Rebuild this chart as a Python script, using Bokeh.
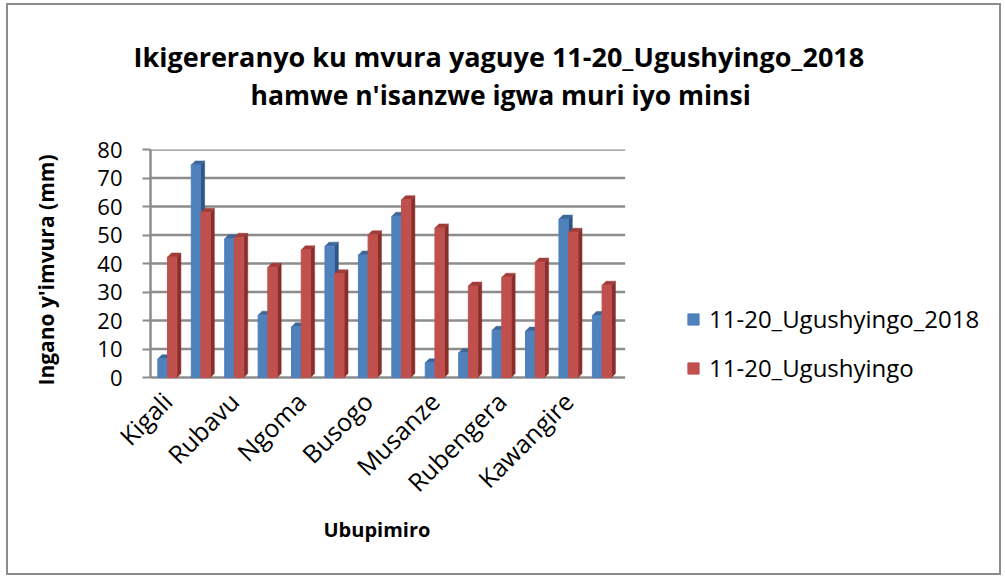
import numpy as np
from bokeh.plotting import figure
from bokeh.models import (Range1d, FixedTicker, Legend, LegendItem, Title)
from bokeh.embed import file_html
from bokeh.resources import INLINE

# ---- data ----
stations = ["Kigali", "", "Rubavu", "", "Ngoma", "", "Busogo", "", "Musanze", "",
            "Rubengera", "", "Kawangire", ""]
rain_2018 = [6.6, 74.6, 48.7, 21.9, 17.8, 46.1, 43.0, 56.6, 5.2, 8.7, 16.6, 16.3, 55.6, 21.8]
rain_normal = [42.3, 58.0, 49.2, 38.7, 44.8, 36.4, 50.1, 62.4, 52.5, 32.1, 35.2, 40.5, 51.0, 32.4]
series_names = ["11-20_Ugushyingo_2018", "11-20_Ugushyingo"]
y_ticks = [0, 10, 20, 30, 40, 50, 60, 70, 80]
title_lines = ["Ikigereranyo ku mvura yaguye 11-20_Ugushyingo_2018",
               "hamwe n'isanzwe igwa muri iyo minsi"]
x_title = "Ubupimiro"
y_title = "Ingano y'imvura (mm)"

FONT = "Open Sans"
W, H = 995, 572
n = len(stations)
idx = np.arange(n)
x_lo, x_hi = -0.5, n - 0.3          # extent of the bar area (walls/floor)

p = figure(width=W, height=H, output_backend="svg", toolbar_location=None,
           x_range=Range1d(-0.5, 24.78), y_range=Range1d(-4.54, 80),
           min_border_left=142, min_border_right=8, min_border_top=20,
           min_border_bottom=187)
p.styles = {"border": "2px solid #8c8c8c", "margin-left": "6px", "margin-top": "3px"}
p.outline_line_color = None
p.background_fill_color = "white"
p.xgrid.grid_line_color = None
p.ygrid.grid_line_color = None

# horizontal gridlines (and floor at 0) limited to the bar area
p.segment(x0=[x_lo] * len(y_ticks), x1=[x_hi] * len(y_ticks), y0=y_ticks, y1=y_ticks,
          line_color="#8c8c8c", line_width=2.5)

bw = 0.28
dx, dy = 0.12, 1.4

def bar3d(xc, vals, front, side, top):
    xc = np.asarray(xc, float)
    v = np.asarray(vals, float)
    xl, xr = xc - bw / 2, xc + bw / 2
    sides_x = [[a, a + dx, a + dx, a] for a in xr]
    sides_y = [[0, dy, b + dy, b] for b in v]
    tops_x = [[l, l + dx, r + dx, r] for l, r in zip(xl, xr)]
    tops_y = [[b, b + dy, b + dy, b] for b in v]
    p.patches(sides_x, sides_y, fill_color=side, line_color=side, line_width=0.5)
    p.patches(tops_x, tops_y, fill_color=top, line_color=top, line_width=0.5)
    return p.vbar(x=xc, top=v, bottom=0, width=bw, fill_color=front, line_color=front)

rb = bar3d(idx - bw / 2, rain_2018, "#4F81BD", "#2F5584", "#3D6699")
rr = bar3d(idx + bw / 2 + 0.01, rain_normal, "#C0504D", "#8A2E2C", "#A03C3A")

p.yaxis.bounds = (y_ticks[0], y_ticks[-1])
p.yaxis.ticker = FixedTicker(ticks=y_ticks)
p.yaxis.axis_line_color = "#8c8c8c"
p.yaxis.axis_line_width = 2.5
p.yaxis.major_tick_line_color = "#8c8c8c"
p.yaxis.major_tick_line_width = 2
p.yaxis.major_tick_out = 8
p.yaxis.major_tick_in = 0
p.yaxis.minor_tick_line_color = None
p.yaxis.major_label_text_font = FONT
p.yaxis.major_label_text_font_size = "22px"
p.yaxis.major_label_text_color = "black"
p.yaxis.major_label_standoff = 20
p.yaxis.axis_label = y_title
p.yaxis.axis_label_text_font = FONT
p.yaxis.axis_label_text_font_size = "21px"
p.yaxis.axis_label_text_font_style = "bold"
p.yaxis.axis_label_text_color = "black"
p.yaxis.axis_label_standoff = 34

p.xaxis.bounds = (x_lo, x_hi)
p.xaxis.ticker = FixedTicker(ticks=[int(i) for i in idx if stations[i]])
p.xaxis.major_label_overrides = {int(i): stations[i] for i in idx if stations[i]}
p.xaxis.major_label_orientation = np.pi / 4
p.xaxis.major_label_text_font = FONT
p.xaxis.major_label_text_font_size = "25px"
p.xaxis.major_label_text_color = "black"
p.xaxis.major_label_standoff = 0
p.xaxis.axis_line_color = None
p.xaxis.major_tick_line_color = None
p.xaxis.minor_tick_line_color = None

# x-axis title centred under the bar area (a Title in the bottom panel)
xt = Title(text=x_title, align="left", offset=173, text_font=FONT,
           text_font_size="20px", text_font_style="bold", text_color="black",
           standoff=0)
p.add_layout(xt, "below")

# titles (added nearest-first)
p.title = None
spacer_bottom = Title(text=" ", text_font=FONT, text_font_size="18px", standoff=11)
t2 = Title(text=title_lines[1], align="left", offset=100,
           text_font=FONT, text_font_size="26.5px", text_font_style="bold",
           text_color="black", standoff=0)
t1 = Title(text=title_lines[0], align="left", offset=-17,
           text_font=FONT, text_font_size="27px", text_font_style="bold",
           text_color="black", standoff=0)
spacer_top = Title(text=" ", text_font=FONT, text_font_size="18px", standoff=4)
for t in (spacer_bottom, t2, t1, spacer_top):
    p.add_layout(t, "above")

legend = Legend(items=[LegendItem(label=series_names[0], renderers=[rb]),
                       LegendItem(label=series_names[1], renderers=[rr])],
                location=(536, 6), border_line_color=None, background_fill_alpha=0,
                padding=0, margin=0, spacing=16, glyph_width=14, glyph_height=14,
                label_height=24, label_text_font=FONT, label_text_font_size="24px",
                label_text_color="black", label_standoff=9)
p.add_layout(legend, "center")

open("out.html", "w").write(file_html(p, INLINE))
